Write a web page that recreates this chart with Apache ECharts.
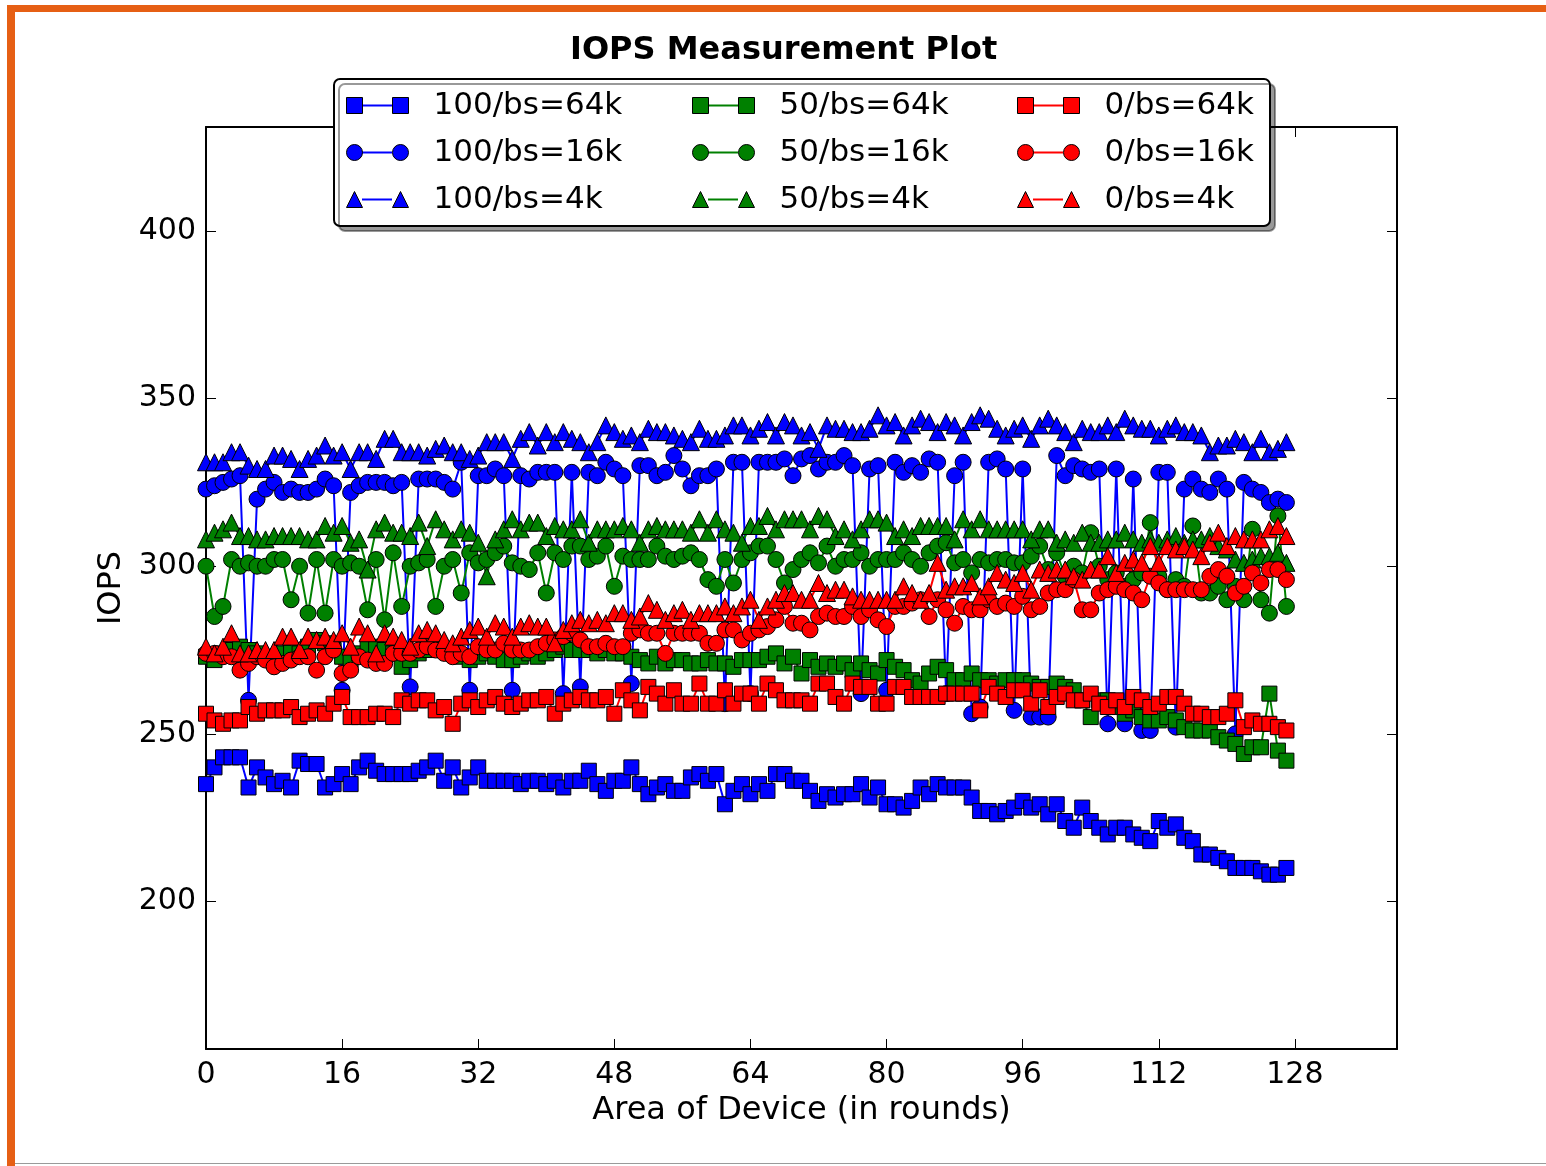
<!DOCTYPE html>
<html>
<head>
<meta charset="utf-8">
<title>IOPS Measurement Plot</title>
<script src="https://cdn.jsdelivr.net/npm/echarts@6.0.0/dist/echarts.min.js"></script>
<style>
  html, body { margin: 0; padding: 0; background: #fff; }
  #chart { width: 1546px; height: 1166px; }
</style>
</head>
<body>
<div id="chart"></div>
<script>
// x positions: one measurement per round
const rounds = Array.from({ length: 128 }, (_, i) => i);
const xTicks = [0, 16, 32, 48, 64, 80, 96, 112, 128];
const yTicks = [200, 250, 300, 350, 400];

// 100% read
const s100_64k = [235,240,243,243,243,234,240,237,235,236,234,242,241,241,234,235,238,235,240,242,239,238,238,238,238,239,240,242,236,240,234,237,240,236,236,236,236,235,236,236,235,236,234,236,236,239,235,233,236,236,240,235,232,234,235,233,233,237,238,236,238,229,233,235,232,235,233,238,238,236,236,233,230,232,231,232,232,235,231,234,229,229,228,230,234,232,235,234,234,234,231,227,227,226,227,228,230,228,229,226,229,224,222,228,224,222,220,222,222,220,219,218,224,222,223,219,218,214,214,213,212,210,210,210,209,208,208,210];
const s100_16k = [323,324,325,326,327,260,320,323,325,322,323,322,322,323,326,324,263,322,324,325,325,325,324,325,264,326,326,326,325,323,331,263,327,327,329,327,263,327,326,328,328,328,262,328,264,328,327,331,329,327,265,330,330,327,328,333,329,324,327,327,329,259,331,331,262,331,331,331,332,327,332,333,329,331,331,333,330,262,329,330,263,331,328,330,328,332,331,262,327,331,256,258,331,332,329,257,329,255,255,255,333,327,330,329,328,329,253,329,253,326,251,251,328,328,252,323,326,323,322,326,323,250,325,323,322,319,320,319];
const s100_4k = [331,331,331,334,334,330,329,329,333,333,332,329,332,333,336,333,334,329,334,334,332,338,338,334,334,334,333,335,336,334,334,332,333,337,337,337,332,338,340,336,340,337,340,338,337,334,337,342,340,338,339,337,341,340,340,339,338,337,341,338,338,339,342,342,339,341,343,339,343,342,339,340,335,342,341,341,340,340,341,345,342,343,339,342,344,343,340,343,342,339,343,345,344,341,339,341,342,338,342,344,342,340,337,341,340,340,342,340,344,342,341,341,339,341,342,340,340,339,334,336,336,338,337,334,338,334,335,337];

// 50% read
const s50_64k = [273,272,274,275,276,275,274,273,272,274,275,274,276,278,277,275,273,272,274,276,276,275,274,270,272,274,275,276,275,274,273,272,273,274,273,272,272,273,274,273,274,275,276,275,275,275,274,275,274,274,273,272,271,273,271,272,272,271,271,272,271,271,270,272,272,272,273,274,271,273,268,272,270,271,270,271,269,271,269,268,272,270,269,266,265,268,270,269,266,266,268,266,266,265,266,266,266,265,264,264,265,264,263,260,255,260,260,258,256,257,255,254,254,255,254,252,251,251,251,249,248,247,244,246,246,262,245,242];
const s50_16k = [300,285,288,302,300,301,300,300,302,302,290,300,286,302,286,302,300,301,300,287,302,284,304,288,300,301,302,288,300,302,292,304,301,302,304,306,301,300,299,304,292,304,302,306,306,302,303,306,294,303,302,302,302,306,303,302,303,304,302,296,294,302,295,302,304,306,306,302,295,299,302,304,301,306,300,302,302,304,300,302,302,302,304,302,300,304,306,307,301,302,298,302,301,302,302,301,301,303,306,299,304,297,300,298,310,300,296,298,294,296,298,313,297,293,296,294,312,292,292,294,290,294,290,311,290,286,315,288];
const s50_4k = [308,310,311,313,309,309,308,308,309,309,309,309,308,308,312,310,312,307,308,299,311,313,310,310,309,313,306,314,311,308,311,310,307,297,308,311,314,311,313,313,309,312,311,311,314,307,311,311,311,312,311,307,311,312,311,311,311,310,314,310,314,311,310,307,312,312,315,311,314,314,314,311,315,314,309,311,308,311,314,314,313,309,311,309,312,312,312,312,308,314,311,314,311,311,311,311,311,308,311,311,307,308,307,310,307,307,308,308,310,308,307,308,307,308,309,307,308,308,309,306,305,302,301,302,303,303,304,301];

// 0% read
const s0_64k = [256,254,253,254,254,258,256,257,257,257,258,255,256,257,256,259,261,255,255,255,256,256,255,260,259,260,260,257,258,253,259,260,258,260,261,259,258,259,260,260,261,256,259,260,261,260,260,261,256,263,260,257,264,262,259,263,259,259,265,259,259,263,259,262,262,259,265,263,260,260,260,259,265,265,261,259,265,264,264,259,259,264,264,261,261,261,261,262,262,262,262,257,264,262,261,263,263,259,263,258,261,262,260,260,262,259,258,260,258,261,260,258,259,261,261,259,256,256,255,255,256,260,252,254,253,253,252,251];
const s0_16k = [274,274,273,273,269,271,273,272,270,271,272,273,273,269,273,275,268,269,273,272,271,271,274,274,274,275,276,275,274,273,274,273,276,275,275,277,275,275,275,276,277,278,279,280,278,276,276,277,276,276,280,281,280,280,274,280,280,280,280,277,277,281,281,278,280,281,282,284,288,283,283,281,285,286,285,285,288,285,287,284,282,288,288,289,290,285,290,287,283,288,287,287,290,288,289,288,291,287,288,292,293,293,296,287,287,292,293,294,293,292,290,297,295,293,293,293,293,293,297,299,297,292,294,298,295,299,299,296];
const s0_4k = [276,274,276,280,274,274,275,275,275,279,279,275,279,278,279,278,280,276,282,280,274,280,279,278,276,280,281,280,278,277,279,281,282,279,283,282,279,282,283,282,282,277,281,283,284,283,284,283,286,286,284,285,289,287,284,286,287,284,286,286,286,288,286,288,290,284,288,290,292,292,290,290,295,292,293,293,291,290,290,290,290,290,294,292,290,292,301,293,294,294,295,291,294,298,296,295,298,293,299,298,299,299,297,296,299,299,303,298,301,302,301,306,301,306,305,306,305,303,307,310,306,309,308,308,308,311,312,309];

const FONT = 'DejaVu Sans';
const BLUE = '#0000ff', GREEN = '#008000', RED = '#ff0000';
const ORANGE = '#e65f14';

// plot order: column by column, later series drawn on top
const seriesDefs = [
  { name: '100/bs=64k', values: s100_64k, color: BLUE,  shape: 'rect' },
  { name: '100/bs=16k', values: s100_16k, color: BLUE,  shape: 'circle' },
  { name: '100/bs=4k',  values: s100_4k,  color: BLUE,  shape: 'triangle' },
  { name: '50/bs=64k',  values: s50_64k,  color: GREEN, shape: 'rect' },
  { name: '50/bs=16k',  values: s50_16k,  color: GREEN, shape: 'circle' },
  { name: '50/bs=4k',   values: s50_4k,   color: GREEN, shape: 'triangle' },
  { name: '0/bs=64k',   values: s0_64k,   color: RED,   shape: 'rect' },
  { name: '0/bs=16k',   values: s0_16k,   color: RED,   shape: 'circle' },
  { name: '0/bs=4k',    values: s0_4k,    color: RED,   shape: 'triangle' }
];

const symbolSizes = { rect: 15, circle: 16, triangle: 17 };

const series = seriesDefs.map(d => ({
  name: d.name,
  type: 'line',
  data: d.values.map((v, i) => [rounds[i], v]),
  symbol: d.shape,
  symbolSize: symbolSizes[d.shape],
  showAllSymbol: true,
  lineStyle: { color: d.color, width: 2 },
  itemStyle: { color: d.color, borderColor: '#000', borderWidth: 1 },
  emphasis: { disabled: true },
  animation: false
}));

// legend glyphs: a marker at each end of a short line
const markerIcons = {
  rect: 'path://M0,0H16V16H0Z M46,0H62V16H46Z',
  circle: 'path://M0,8A8,8,0,1,1,16,8A8,8,0,1,1,0,8Z M46,8A8,8,0,1,1,62,8A8,8,0,1,1,46,8Z',
  triangle: 'path://M0,16L8,0L16,16Z M46,16L54,0L62,16Z'
};
const rowShapes = ['rect', 'circle', 'triangle'];
const legendColumns = [
  { left: 346,  names: ['100/bs=64k', '100/bs=16k', '100/bs=4k'] },
  { left: 692,  names: ['50/bs=64k', '50/bs=16k', '50/bs=4k'] },
  { left: 1017, names: ['0/bs=64k', '0/bs=16k', '0/bs=4k'] }
];
const legendTop = 90;
const legendGap = 16;
const legendText = { fontFamily: FONT, fontSize: 31, lineHeight: 31 };

const legends = [];
legendColumns.forEach(col => {
  // connecting line between the two markers
  legends.push({
    orient: 'vertical', left: col.left + 16, top: legendTop, padding: 0, itemGap: legendGap,
    itemWidth: 30, itemHeight: 2, icon: 'rect', selectedMode: false, z: 4,
    data: col.names,
    itemStyle: { borderWidth: 0 },
    textStyle: Object.assign({ color: 'rgba(0,0,0,0)' }, legendText)
  });
  // markers and labels
  legends.push({
    orient: 'vertical', left: col.left, top: legendTop, padding: 0, itemGap: legendGap,
    itemWidth: 62, itemHeight: 16, selectedMode: false, z: 5,
    data: col.names.map((n, r) => ({ name: n, icon: markerIcons[rowShapes[r]] })),
    itemStyle: { borderColor: '#000', borderWidth: 1 },
    textStyle: Object.assign({ color: '#000', padding: [0, 0, 0, 20] }, legendText)
  });
});

const tickLine = { color: '#000', width: 1 };
const frameLine = { color: '#000', width: 2 };
const labelStyle = { fontFamily: FONT, fontSize: 30, color: '#000' };
const nameStyle = { fontFamily: FONT, fontSize: 32, color: '#000' };

const option = {
  backgroundColor: '#fff',
  animation: false,
  title: {
    text: 'IOPS Measurement Plot',
    left: 570, top: 35, padding: 0,
    textStyle: { fontFamily: FONT, fontSize: 32, fontWeight: 'bold', color: '#000', lineHeight: 32 }
  },
  legend: legends,
  grid: { left: 206, right: 149, top: 127, bottom: 117 },
  xAxis: [
    {
      type: 'value', min: 0, max: 140, position: 'bottom',
      axisLine: { show: true, onZero: false, lineStyle: frameLine },
      axisTick: { show: true, inside: true, length: 10, customValues: xTicks, lineStyle: tickLine },
      axisLabel: Object.assign({ show: true, customValues: xTicks, margin: 11 }, labelStyle),
      splitLine: { show: false },
      name: 'Area of Device (in rounds)', nameLocation: 'middle', nameGap: 46,
      nameTextStyle: nameStyle
    },
    {
      type: 'value', min: 0, max: 140, position: 'top',
      axisLine: { show: true, onZero: false, lineStyle: frameLine },
      axisTick: { show: true, inside: true, length: 10, customValues: xTicks, lineStyle: tickLine },
      axisLabel: { show: false },
      splitLine: { show: false }
    }
  ],
  yAxis: [
    {
      type: 'value', min: 156, max: 431, position: 'left',
      axisLine: { show: true, onZero: false, lineStyle: frameLine },
      axisTick: { show: true, inside: true, length: 10, customValues: yTicks, lineStyle: tickLine },
      axisLabel: Object.assign({ show: true, customValues: yTicks, margin: 10 }, labelStyle),
      splitLine: { show: false },
      name: 'IOPS', nameLocation: 'middle', nameGap: 73,
      nameTextStyle: nameStyle
    },
    {
      type: 'value', min: 156, max: 431, position: 'right',
      axisLine: { show: true, onZero: false, lineStyle: frameLine },
      axisTick: { show: true, inside: true, length: 10, customValues: yTicks, lineStyle: tickLine },
      axisLabel: { show: false },
      splitLine: { show: false }
    }
  ],
  graphic: [
    // page frame
    { type: 'rect', z: 10, shape: { x: 7, y: 5, width: 8, height: 1161 }, style: { fill: ORANGE } },
    { type: 'rect', z: 10, shape: { x: 7, y: 5, width: 1539, height: 7 }, style: { fill: ORANGE } },
    { type: 'rect', z: 10, shape: { x: 15, y: 1163, width: 1531, height: 1 }, style: { fill: '#9a9a9a' } },
    // legend panel with drop shadow
    {
      type: 'rect', z: 3,
      shape: { x: 334, y: 79, width: 936, height: 147, r: 6 },
      style: {
        fill: '#fff', stroke: '#000', lineWidth: 2,
        shadowColor: 'rgba(0,0,0,0.4)', shadowOffsetX: 5, shadowOffsetY: 5, shadowBlur: 0
      }
    }
  ],
  series: series
};

const chart = echarts.init(document.getElementById('chart'), null, { renderer: 'canvas' });
chart.setOption(option);
</script>
</body>
</html>
